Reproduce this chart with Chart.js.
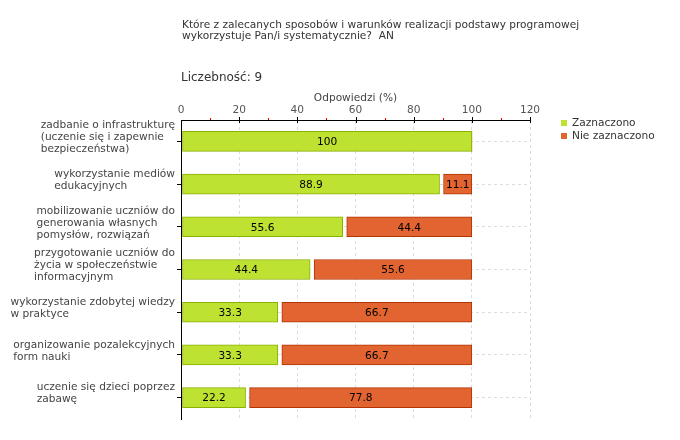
<!DOCTYPE html>
<html lang="pl">
  <head>
    <meta charset="UTF-8" />
    <title>Liczebność</title>
    <script src="https://cdn.jsdelivr.net/npm/chart.js"></script>
    <style>
      html, body { margin: 0; padding: 0; background: #fff; }
      #wrap { width: 680px; height: 440px; position: relative; }
    </style>
  </head>
  <body>
    <div id="wrap"><canvas id="myChart"></canvas></div>
    <script>
      // dane
      const kategorie = [
        ["zadbanie o infrastrukturę", "(uczenie się i zapewnie", "bezpieczeństwa)"],
        ["wykorzystanie mediów", "edukacyjnych"],
        ["mobilizowanie uczniów do", "generowania własnych", "pomysłów, rozwiązań"],
        ["przygotowanie uczniów do", "życia w społeczeństwie", "informacyjnym"],
        ["wykorzystanie zdobytej wiedzy", "w praktyce"],
        ["organizowanie pozalekcyjnych", "form nauki"],
        ["uczenie się dzieci poprzez", "zabawę"]
      ];
      const zaznaczono = [100, 88.9, 55.6, 44.4, 33.3, 33.3, 22.2];
      const nieZaznaczono = [0, 11.1, 44.4, 55.6, 66.7, 66.7, 77.8];
      const tytul = [
        "Które z zalecanych sposobów i warunków realizacji podstawy programowej",
        "wykorzystuje Pan/i systematycznie?  AN"
      ];
      const liczebnosc = "Liczebność: 9";

      const FONT = "'DejaVu Sans', sans-serif";
      const F = "10.6px " + FONT;

      // odstep miedzy segmentami slupka
      const przesuniecie = {
        id: "przesuniecie",
        afterDatasetsUpdate(chart) {
          chart.getDatasetMeta(0).data.forEach((el) => { el.base += 1; });
          chart.getDatasetMeta(1).data.forEach((el, i) => {
            if (nieZaznaczono[i] > 0) el.base += 4;
          });
        }
      };

      const dodatki = {
        id: "dodatki",
        afterDatasetsDraw(chart) {
          const ctx = chart.ctx;
          ctx.save();
          ctx.font = F;
          ctx.fillStyle = "#000";
          ctx.textAlign = "center";
          ctx.textBaseline = "middle";
          chart.data.datasets.forEach((ds, d) => {
            chart.getDatasetMeta(d).data.forEach((el, i) => {
              if (!ds.data[i]) return;
              const p = el.getCenterPoint();
              ctx.fillText(String(ds.data[i]), p.x, p.y + 1);
            });
          });
          ctx.restore();
        },
        afterDraw(chart) {
          const ctx = chart.ctx;
          const x = chart.scales.x;
          const y = chart.scales.y;
          const area = chart.chartArea;
          ctx.save();
          // znaczniki osi X
          for (let v = 10; v <= 120; v += 10) {
            const px = Math.round(x.getPixelForValue(v)) + 0.5;
            ctx.beginPath();
            if (v % 20 === 0) {
              ctx.strokeStyle = "#000";
              ctx.moveTo(px, area.top - 3);
              ctx.lineTo(px, area.top + 3);
            } else {
              ctx.strokeStyle = "#ff0000";
              ctx.moveTo(px, area.top - 2);
              ctx.lineTo(px, area.top);
            }
            ctx.lineWidth = 1;
            ctx.stroke();
          }
          // etykiety osi Y
          ctx.font = F;
          ctx.fillStyle = "#444";
          ctx.textAlign = "left";
          ctx.textBaseline = "middle";
          kategorie.forEach((linie, i) => {
            const cy = y.getPixelForTick(i) - 4;
            const w = Math.max(...linie.map((l) => ctx.measureText(l).width));
            const x0 = area.left - 6 - w;
            linie.forEach((l, k) => {
              ctx.fillText(l, x0, cy + (k - (linie.length - 1) / 2) * 12);
            });
          });
          // tytul
          ctx.fillStyle = "#333";
          tytul.forEach((l, k) => ctx.fillText(l, area.left + 1, 25 + k * 11));
          ctx.font = "12px " + FONT;
          ctx.fillText(liczebnosc, area.left, 78);
          // legenda
          ctx.font = F;
          chart.data.datasets.forEach((ds, d) => {
            const ly = 123 + d * 13;
            ctx.fillStyle = ds.backgroundColor;
            ctx.fillRect(561, ly - 3, 6, 6);
            ctx.fillStyle = "#333";
            ctx.fillText(ds.label, 572, ly);
          });
          ctx.restore();
        }
      };

      const ctx = document.getElementById("myChart").getContext("2d");
      new Chart(ctx, {
        type: "bar",
        data: {
          labels: kategorie,
          datasets: [
            {
              label: "Zaznaczono",
              data: zaznaczono,
              backgroundColor: "#bee232",
              borderColor: "#8ab000",
              borderWidth: 1,
              borderSkipped: false,
              barThickness: 20
            },
            {
              label: "Nie zaznaczono",
              data: nieZaznaczono,
              backgroundColor: "#e26430",
              borderColor: "#b23400",
              borderWidth: (c) => (c.raw ? 1 : 0),
              borderSkipped: false,
              barThickness: 20
            }
          ]
        },
        options: {
          indexAxis: "y",
          responsive: true,
          maintainAspectRatio: false,
          animation: false,
          layout: { padding: { top: 88, left: 0, right: 150, bottom: 21 } },
          plugins: {
            legend: { display: false },
            tooltip: { enabled: false }
          },
          scales: {
            x: {
              position: "top",
              stacked: true,
              min: 0,
              max: 120,
              afterFit: (s) => { s.height = 32; },
              ticks: {
                stepSize: 20,
                padding: 3,
                color: "#555",
                font: { family: FONT, size: 10.6 }
              },
              title: {
                display: true,
                text: "Odpowiedzi (%)",
                color: "#444",
                font: { family: FONT, size: 10.6 },
                padding: { top: 4, bottom: 2 }
              },
              grid: {
                color: (c) => (c.index === 0 ? "rgba(0,0,0,0)" : "#dcdcdc"),
                drawTicks: false
              },
              border: { color: "#000", width: 1, dash: [3, 3] }
            },
            y: {
              stacked: true,
              afterFit: (s) => { s.width = 181; },
              ticks: { display: false },
              grid: {
                offset: false,
                color: "#dcdcdc",
                drawTicks: true,
                tickLength: 4,
                tickColor: "#000",
                tickBorderDash: []
              },
              border: { color: "#000", width: 1, dash: [3, 3] }
            }
          }
        },
        plugins: [przesuniecie, dodatki]
      });
    </script>
  </body>
</html>
